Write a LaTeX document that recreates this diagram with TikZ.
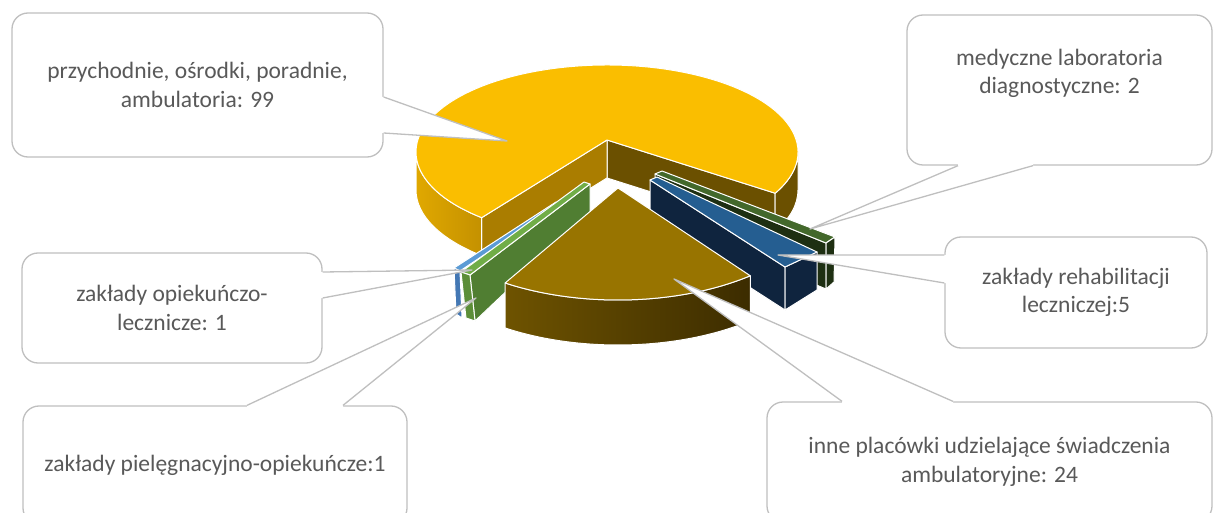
\documentclass[tikz,border=0pt]{standalone}
\usepackage{fontspec}
\setmainfont{Carlito}
\usetikzlibrary{calc}

\definecolor{ytop}{RGB}{250,190,0}
\definecolor{yside1}{RGB}{224,168,0}
\definecolor{yside2}{RGB}{196,145,0}
\definecolor{ycutL}{RGB}{170,125,0}
\definecolor{ycutR}{RGB}{107,80,0}
\definecolor{btop}{RGB}{152,116,0}
\definecolor{bside1}{RGB}{110,83,0}
\definecolor{bside2}{RGB}{60,44,0}
\definecolor{navy}{RGB}{15,36,62}
\definecolor{blutop}{RGB}{37,94,145}
\definecolor{dgtop}{RGB}{67,104,43}
\definecolor{dgside}{RGB}{30,47,18}
\definecolor{lbtop}{RGB}{91,155,213}
\definecolor{lbside}{RGB}{68,120,180}
\definecolor{gtop}{RGB}{112,173,71}
\definecolor{gface}{RGB}{80,126,50}
\definecolor{gside}{RGB}{92,142,56}
\definecolor{boxgray}{RGB}{191,191,191}
\definecolor{txtgray}{RGB}{89,89,89}

\tikzset{
  face/.style={draw=white, line width=1pt, line join=round},
  callbox/.style={draw=boxgray, line width=1.3pt, rounded corners=16pt, fill=white,
    text=txtgray, align=center, inner sep=0pt, font=\fontsize{23.5}{28.5}\selectfont},
  tailline/.style={draw=boxgray, line width=1.3pt, line join=round},
}
\newcommand{\calltail}[4]{%
  \fill[white] ($(#1)+#4$) -- (#1) -- (#3) -- (#2) -- ($(#2)+#4$) -- cycle;
  \draw[tailline] (#1) -- (#3) -- (#2);}

\begin{document}
\begin{tikzpicture}[x=1pt, y=-1pt]
\useasboundingbox (0,0) rectangle (1213,513);

\coordinate (yc) at (607,152);
\coordinate (ya) at (607,140);
\coordinate (yb) at (607,178);
\coordinate (yl) at ([shift={(yc)}]131:191 and 87);
\coordinate (yr) at ([shift={(yc)}]28.3:191 and 87);
\coordinate (ye) at ([shift={(yc)}]0:191 and 87);
\coordinate (yw) at ([shift={(yc)}]180:191 and 87);

\draw[face, fill=ycutR] (ya) -- (yr) -- ++(0,38) -- (yb) -- cycle;
\draw[face, fill=ycutL] (ya) -- (yl) -- ++(0,38) -- (yb) -- cycle;
\draw[face, left color=yside1, right color=yside2] (yl) arc[start angle=131, end angle=180, x radius=191, y radius=87]
  -- ++(0,38) arc[start angle=180, end angle=131, x radius=191, y radius=87] -- cycle;
\draw[face, fill=ycutR] (ye) arc[start angle=0, end angle=28.3, x radius=191, y radius=87]
  -- ++(0,38) arc[start angle=28.3, end angle=0, x radius=191, y radius=87] -- cycle;
\draw[face, fill=ytop] (ya) -- (yr) arc[start angle=28.3, end angle=-229, x radius=191, y radius=87] -- cycle;

\draw[face, fill=dgside] (655,174) -- (826,243) -- (826,289) -- (655,218) -- cycle;
\draw[face, fill=dgtop] (655,174) -- (826,243) -- (835,237) -- (662,171) -- cycle;
\draw[face, fill=dgside] (826,243) -- (835,237) -- (834,282) -- (826,289) -- cycle;

\draw[face, fill=navy] (650,180) -- (785,267) -- (785,310) -- (650,223) -- cycle;
\draw[face, fill=navy] (785,267) -- (817,252) -- (817,290) -- (785,310) -- cycle;
\draw[face, fill=blutop] (650,180) -- (785,267) -- (817,252) -- (657,177) -- cycle;

\draw[face, fill=lbtop] (454,268) -- (556,202) -- (560,204) -- (460,271) -- cycle;
\draw[face, fill=lbside] (454,268) -- (460,271) -- (462,318) -- (456,314) -- cycle;

\draw[face, fill=gface] (470,275) -- (590,184) -- (590,212) -- (475,321) -- cycle;
\draw[face, fill=gtop] (461,272) -- (584,182) -- (590,184) -- (470,275) -- cycle;
\draw[face, fill=gside] (461,272) -- (470,275) -- (475,321) -- (466,318) -- cycle;

\coordinate (bc) at (618,188);
\coordinate (bl) at ([shift={(bc)}]122:213 and 112);
\draw[face, left color=bside1, right color=bside2] (bl) arc[start angle=122, end angle=51.6, x radius=213, y radius=112]
  -- ++(0,45) arc[start angle=51.6, end angle=122, x radius=213, y radius=112] -- cycle;
\draw[face, fill=btop] (bc) -- (bl) arc[start angle=122, end angle=51.6, x radius=213, y radius=112] -- cycle;

\node[callbox, minimum width=371, minimum height=144] (p1) at (197.5,85) {przychodnie, ośrodki, poradnie,\\ambulatoria: 99};
\node[callbox, minimum width=300, minimum height=110] (p2) at (172,308) {zakłady opiekuńczo-\\lecznicze: 1};
\node[callbox, minimum width=384, minimum height=118] (p3) at (215,465) {zakłady pielęgnacyjno-opiekuńcze:1};
\node[callbox, minimum width=445, minimum height=120] (p4) at (989.5,462) {inne placówki udzielające świadczenia\\ambulatoryjne: 24};
\node[callbox, minimum width=262, minimum height=111] (p5) at (1076,292.5) {zakłady rehabilitacji\\leczniczej:5};
\node[callbox, minimum width=305, minimum height=150] (p6) at (1059.5,90) {medyczne laboratoria\\diagnostyczne: 2\\ \strut};

\coordinate (t1) at (507,141);
\coordinate (t2) at (472,270);
\coordinate (t3) at (476,298);
\coordinate (t4) at (674,279);
\coordinate (t5) at (778,255);
\coordinate (t6) at (810,229);

\coordinate (b1a) at (p1.east |- 0,97);
\coordinate (b1b) at (p1.east |- 0,133);
\coordinate (b2a) at (p2.east |- 0,272);
\coordinate (b2b) at (p2.east |- 0,298);
\coordinate (b3a) at (247,0 |- p3.north);
\coordinate (b3b) at (343,0 |- p3.north);
\coordinate (b4a) at (842,0 |- p4.north);
\coordinate (b4b) at (953,0 |- p4.north);
\coordinate (b5a) at (p5.west |- 0,255);
\coordinate (b5b) at (p5.west |- 0,283);
\coordinate (b6a) at (958,0 |- p6.south);
\coordinate (b6b) at (1033,0 |- p6.south);

\calltail{b1a}{b1b}{t1}{(-3,0)}
\calltail{b2a}{b2b}{t2}{(-3,0)}
\calltail{b3a}{b3b}{t3}{(0,3)}
\calltail{b4a}{b4b}{t4}{(0,3)}
\calltail{b5a}{b5b}{t5}{(3,0)}
\calltail{b6a}{b6b}{t6}{(0,-3)}
\end{tikzpicture}
\end{document}
